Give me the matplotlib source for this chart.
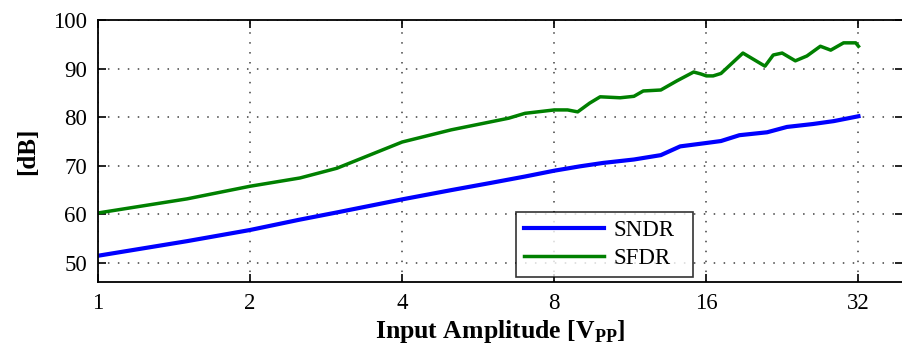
import matplotlib
matplotlib.use("Agg")
import matplotlib.pyplot as plt
from matplotlib.ticker import FixedLocator, FixedFormatter, NullLocator

# Data
sndr_x = [1, 1.5, 2, 2.5, 3, 4, 5, 6, 7, 8, 9, 10, 11.5, 13, 14.2, 16, 17.1, 18.6, 21.1, 23.1, 26, 28.6, 32]
sndr_y = [51.5, 54.5, 56.8, 58.9, 60.5, 63.1, 65.0, 66.5, 67.8, 69.0, 69.9, 70.6, 71.3, 72.2, 74.0, 74.7, 75.1, 76.3, 76.9, 78.0, 78.6, 79.2, 80.2]

sfdr_x = [1, 1.5, 2, 2.51, 2.97, 4, 5, 6.5, 7, 8, 8.5, 8.9, 9.4, 9.86, 10.8, 11.5, 12.0, 13.0, 14.0, 15.1, 15.6, 16.0, 16.5, 17.1,
          18.9, 20.9, 21.7, 22.6, 24.0, 25.3, 26.9, 28.2, 29.9, 31.6, 32]
sfdr_y = [60.3, 63.2, 65.8, 67.5, 69.5, 74.9, 77.4, 79.8, 80.8, 81.5, 81.5, 81.1, 82.9, 84.2, 84.0, 84.3, 85.4, 85.6, 87.5, 89.3, 88.9, 88.5, 88.5, 89.0,
          93.2, 90.5, 92.8, 93.2, 91.6, 92.6, 94.6, 93.8, 95.3, 95.3, 94.6]

x_ticks = [1, 2, 4, 8, 16, 32]
x_tick_labels = ["1", "2", "4", "8", "16", "32"]
y_ticks = [50, 60, 70, 80, 90, 100]

plt.rcParams['font.family'] = ['Liberation Serif', 'DejaVu Serif']
plt.rcParams['mathtext.fontset'] = 'custom'
plt.rcParams['mathtext.rm'] = 'Liberation Serif'
plt.rcParams['mathtext.bf'] = 'Liberation Serif:bold'

fig = plt.figure(figsize=(9.03, 3.59), dpi=100)
ax = fig.add_axes([98/903, 1 - 282/359, (903 - 98)/903, (282 - 20)/359])

ax.plot(sndr_x, sndr_y, color=(0, 0, 1), lw=3.0, label="SNDR")
ax.plot(sfdr_x, sfdr_y, color=(0, 0.5, 0), lw=2.5, label="SFDR")

ax.set_xscale("log", base=2)
ax.set_xlim(1, 39.2)
ax.set_ylim(46.1, 100)
ax.xaxis.set_major_locator(FixedLocator(x_ticks))
ax.xaxis.set_major_formatter(FixedFormatter(x_tick_labels))
ax.xaxis.set_minor_locator(NullLocator())
ax.set_yticks(y_ticks)

ax.grid(True, which="major", color="0.25", linestyle=(0, (1, 5.5)), linewidth=1.1)
ax.tick_params(direction="in", length=6, width=1.2, top=True, right=True, labelsize=16.5, pad=8)
for s in ax.spines.values():
    s.set_linewidth(1.3)

ax.set_xlabel(r"Input Amplitude [V$_{\mathbf{PP}}$]", fontsize=18.5, fontweight="bold", labelpad=3)
ax.set_ylabel("[dB]", fontsize=18, fontweight="bold", labelpad=10)

leg = ax.legend(loc="lower left", bbox_to_anchor=((516 - 98)/805, (282 - 277)/262, (693 - 516)/805, (277 - 197)/262),
                mode="expand", fontsize=16.5, frameon=True, fancybox=False, edgecolor="black",
                handlelength=3.5, handletextpad=0.4, borderaxespad=0, borderpad=0.35, labelspacing=0.3)
leg.get_frame().set_linewidth(1.2)

fig.savefig("out.png", dpi=100)
